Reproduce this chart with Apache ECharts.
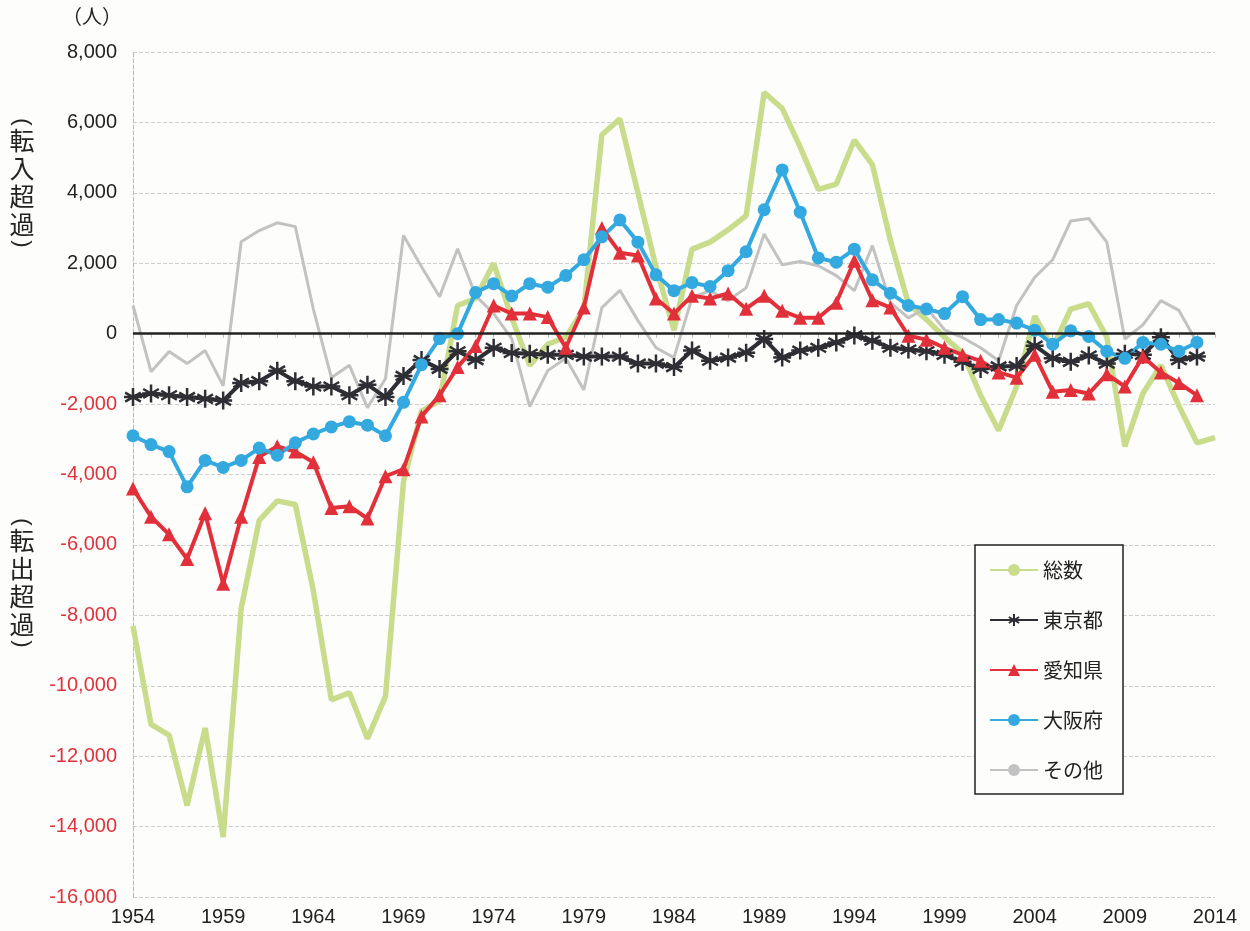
<!DOCTYPE html>
<html>
<head>
<meta charset="utf-8">
<title>転入・転出超過の推移</title>
<script src="https://cdn.jsdelivr.net/npm/echarts@6/dist/echarts.min.js"></script>
<style>
  html, body { margin: 0; padding: 0; background: #fdfdfb; }
  #main { width: 1250px; height: 931px; }
</style>
</head>
<body>
<div id="main"></div>
<script>
// years 1954 - 2014
var years = [];
for (var y = 1954; y <= 2014; y++) { years.push(String(y)); }

var seriesNames = ['総数', '東京都', '愛知県', '大阪府', 'その他'];

var total = [
  -8300, -11100, -11400, -13400, -11200, -14300, -7800, -5300, -4750, -4850,
  -7300, -10400, -10200, -11500, -10300, -4200, -2200, -1900, 800, 1000,
  2000, 450, -900, -300, -100, 700, 5650, 6100, 4000, 1900,
  100, 2400, 2600, 2950, 3350, 6850, 6400, 5300, 4100, 4250,
  5500, 4800, 2650, 850, 400, -100, -550, -1750, -2750, -1500,
  500, -400, 700, 850, -100, -3200, -1700, -900, -2050, -3100,
  -2950
];
var tokyo = [
  -1800, -1700, -1750, -1800, -1850, -1900, -1400, -1350, -1050, -1350,
  -1500, -1500, -1750, -1450, -1800, -1200, -750, -1000, -500, -750,
  -400, -550, -570, -600, -600, -650, -650, -650, -850, -850,
  -950, -480, -770, -680, -540, -150, -680, -480, -400, -250,
  -50, -200, -400, -450, -500, -600, -800, -1000, -930, -920,
  -340, -700, -800, -620, -850, -570, -600, -100, -750, -650,
  null
];
var aichi = [
  -4400, -5200, -5700, -6400, -5100, -7100, -5200, -3500, -3200, -3350,
  -3650, -4950, -4900, -5250, -4050, -3850, -2350, -1750, -950, -350,
  800, 570, 570, 470, -400, 740, 3000, 2300, 2220, 1000,
  570, 1080, 1000, 1140, 710, 1080, 650, 450, 450, 880,
  2070, 950, 740, -60, -170, -400, -600, -770, -1100, -1250,
  -600, -1650, -1600, -1700, -1150, -1500, -650, -1100, -1400, -1750,
  null
];
var osaka = [
  -2900, -3150, -3350, -4350, -3600, -3800, -3600, -3250, -3450, -3100,
  -2850, -2650, -2500, -2600, -2900, -1950, -880, -140, 0, 1170,
  1420, 1070, 1420, 1320, 1650, 2100, 2750, 3230, 2600, 1670,
  1220, 1450, 1340, 1790, 2330, 3520, 4650, 3450, 2150, 2030,
  2400, 1530, 1150, 800, 700, 570, 1050, 400, 400, 300,
  100, -300, 80, -80, -500, -700, -250, -300, -500, -250,
  null
];
var other = [
  800, -1080, -510, -850, -480, -1480, 2610, 2930, 3150, 3040,
  700, -1250, -900, -2100, -1280, 2790, 1900, 1050, 2410, 1080,
  570, -140, -2070, -1050, -700, -1600, 740, 1230, 370, -400,
  -680, 1020, 1220, 940, 1300, 2830, 1960, 2050, 1930, 1650,
  1220, 2500, 880, 450, 740, 110, -110, -400, -770, 800,
  1600, 2100, 3200, 3270, 2600, -150, 250, 940, 660, -250,
  null
];

var yTicks = { min: -16000, max: 8000, step: 2000 };

var numFont = "'Liberation Sans', Arial, sans-serif";
var jpFont = "'Noto Sans CJK JP', sans-serif";
var asterisk = 'path://M10 0L10 20M1.3 5L18.7 15M1.3 15L18.7 5M0 10L20 10';

function fmt(v) {
  var s = String(Math.abs(v)).replace(/\B(?=(\d{3})+(?!\d))/g, ',');
  return v < 0 ? '{neg|-' + s + '}' : '{pos|' + s + '}';
}

// vertical axis caption: brackets turned a quarter, characters upright
function vName(chars, top) {
  var items = [
    { type: 'text', x: 22, y: top - 4, rotation: -Math.PI / 2,
      style: { text: '(', fontFamily: numFont, fontSize: 22, fill: '#222', align: 'center', verticalAlign: 'middle' } }
  ];
  for (var i = 0; i < chars.length; i++) {
    items.push({ type: 'text', x: 22, y: top + 14 + i * 28,
      style: { text: chars[i], fontFamily: jpFont, fontSize: 25, fill: '#222', align: 'center', verticalAlign: 'middle' } });
  }
  items.push({ type: 'text', x: 22, y: top + chars.length * 28 + 6, rotation: -Math.PI / 2,
    style: { text: ')', fontFamily: numFont, fontSize: 22, fill: '#222', align: 'center', verticalAlign: 'middle' } });
  return items;
}

var chart = echarts.init(document.getElementById('main'));

chart.setOption({
  backgroundColor: '#fdfdfb',
  animation: false,
  grid: { left: 133, right: 35, top: 52, bottom: 34, containLabel: false },
  legend: {
    data: seriesNames,
    orient: 'vertical',
    left: 975,
    top: 545,
    padding: [15, 20, 14, 14],
    itemGap: 30,
    itemWidth: 48,
    itemHeight: 15,
    borderColor: '#222',
    borderWidth: 1.5,
    backgroundColor: '#fdfdfb',
    textStyle: { fontFamily: jpFont, fontSize: 20, color: '#222' }
  },
  graphic: [
    { type: 'text', left: 62, top: 6,
      style: { text: '（人）', fontFamily: jpFont, fontSize: 20, fill: '#222' } }
  ].concat(vName(['転', '入', '超', '過'], 126), vName(['転', '出', '超', '過'], 526)),
  xAxis: {
    type: 'category',
    data: years,
    boundaryGap: false,
    axisLine: { show: true, lineStyle: { color: '#bbb', type: 'dashed', width: 1 } },
    axisTick: { show: true, interval: 0, length: 4, lineStyle: { color: '#bbb' } },
    axisLabel: { interval: 4, margin: 10, fontFamily: numFont, fontSize: 20, color: '#222' },
    splitLine: { show: false }
  },
  yAxis: {
    type: 'value',
    min: yTicks.min,
    max: yTicks.max,
    interval: yTicks.step,
    axisLine: { show: true, lineStyle: { color: '#bbb', type: 'dashed', width: 1 } },
    axisTick: { show: false },
    axisLabel: {
      margin: 16,
      formatter: fmt,
      rich: {
        pos: { fontFamily: numFont, fontSize: 20, color: '#222' },
        neg: { fontFamily: numFont, fontSize: 20, color: '#e0323c' }
      }
    },
    splitLine: { show: true, lineStyle: { color: '#cfcfcf', type: 'dashed', width: 1 } }
  },
  series: [
    {
      name: '総数', type: 'line', data: total, symbol: 'none',
      lineStyle: { color: '#c8dc8c', width: 5.5 },
      itemStyle: { color: '#c8dc8c' },
      markLine: {
        silent: true, symbol: 'none', label: { show: false },
        lineStyle: { color: '#222', width: 2.5, type: 'solid' },
        data: [{ yAxis: 0 }]
      }
    },
    {
      name: 'その他', type: 'line', data: other, symbol: 'none',
      lineStyle: { color: '#c2c2c2', width: 3 },
      itemStyle: { color: '#c2c2c2' }
    },
    {
      name: '東京都', type: 'line', data: tokyo,
      symbol: asterisk, symbolSize: 18, showAllSymbol: true,
      lineStyle: { color: '#2e2e34', width: 4 },
      itemStyle: { color: '#2e2e34', borderColor: '#2e2e34', borderWidth: 2.5 }
    },
    {
      name: '愛知県', type: 'line', data: aichi,
      symbol: 'triangle', symbolSize: 14, showAllSymbol: true,
      lineStyle: { color: '#e2303a', width: 4 },
      itemStyle: { color: '#e2303a' }
    },
    {
      name: '大阪府', type: 'line', data: osaka,
      symbol: 'circle', symbolSize: 13, showAllSymbol: true,
      lineStyle: { color: '#33a9e0', width: 4 },
      itemStyle: { color: '#33a9e0' }
    }
  ]
});
</script>
</body>
</html>
